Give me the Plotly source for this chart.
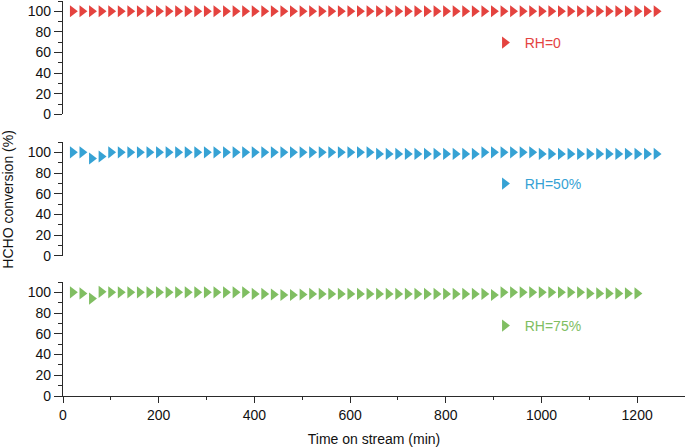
import plotly.graph_objects as go

# ---- data ----
time_0 = [20, 40, 60, 80, 100, 120, 140, 160, 180, 200, 220, 240, 260, 280, 300, 320,
          340, 360, 380, 400, 420, 440, 460, 480, 500, 520, 540, 560, 580, 600, 620, 640,
          660, 680, 700, 720, 740, 760, 780, 800, 820, 840, 860, 880, 900, 920, 940, 960,
          980, 1000, 1020, 1040, 1060, 1080, 1100, 1120, 1140, 1160, 1180, 1200, 1220, 1240]
conv_0 = [100, 100, 100, 100, 100, 100, 100, 100, 100, 100, 100, 100, 100, 100, 100, 100,
          100, 100, 100, 100, 100, 100, 100, 100, 100, 100, 100, 100, 100, 100, 100, 100,
          100, 100, 100, 100, 100, 100, 100, 100, 100, 100, 100, 100, 100, 100, 100, 100,
          100, 100, 100, 100, 100, 100, 100, 100, 100, 100, 100, 100, 100, 100]

time_50 = [20, 40, 60, 80, 100, 120, 140, 160, 180, 200, 220, 240, 260, 280, 300, 320,
           340, 360, 380, 400, 420, 440, 460, 480, 500, 520, 540, 560, 580, 600, 620, 640,
           660, 680, 700, 720, 740, 760, 780, 800, 820, 840, 860, 880, 900, 920, 940, 960,
           980, 1000, 1020, 1040, 1060, 1080, 1100, 1120, 1140, 1160, 1180, 1200, 1220, 1240]
conv_50 = [100, 100, 94, 96, 100, 100, 100, 100, 100, 100, 100, 100, 100, 100, 100, 100,
           100, 100, 100, 100, 100, 100, 100, 100, 100, 100, 100, 100, 100, 100, 100, 100,
           98.5, 98.5, 98.5, 98.5, 98.5, 98.5, 98.5, 98.5, 98.5, 98.5, 98.5, 100, 100, 100, 100, 100,
           100, 98.5, 98.5, 98.5, 98.5, 98.5, 98.5, 98.5, 98.5, 98.5, 98.5, 98.5, 98.5, 98.5]

time_75 = [20, 40, 60, 80, 100, 120, 140, 160, 180, 200, 220, 240, 260, 280, 300, 320,
           340, 360, 380, 400, 420, 440, 460, 480, 500, 520, 540, 560, 580, 600, 620, 640,
           660, 680, 700, 720, 740, 760, 780, 800, 820, 840, 860, 880, 900, 920, 940, 960,
           980, 1000, 1020, 1040, 1060, 1080, 1100, 1120, 1140, 1160, 1180, 1200]
conv_75 = [100, 99, 94, 100.5, 100, 100, 100, 100, 100, 100, 100, 100, 100, 100, 100, 100,
           100, 100, 100, 98.5, 98.5, 98, 97.5, 97.5, 98, 98.5, 98.5, 98.5, 98.5, 98.5, 98.5, 98.5,
           98.5, 98.5, 98.5, 98.5, 98.5, 98.5, 98.5, 98.5, 98.5, 98.5, 98.5, 98.5, 97.5, 100, 100, 100,
           100, 100, 100, 100, 100, 100, 99, 99, 99, 99, 99, 99]

labels = ["RH=0", "RH=50%", "RH=75%"]
colors = ["#E4433F", "#36A2D4", "#80BE62"]

FONT = "Liberation Sans, Arial, Helvetica, sans-serif"
AX = "#2a2a2a"

fig = go.Figure()
series = [(time_0, conv_0, "y", "legend"), (time_50, conv_50, "y2", "legend2"),
          (time_75, conv_75, "y3", "legend3")]
for (xs, ys, ya, lg), name, col in zip(series, labels, colors):
    fig.add_trace(go.Scatter(
        x=xs, y=ys, mode="markers", name=name, xaxis="x", yaxis=ya, legend=lg,
        marker=dict(symbol="triangle-right", size=10.5, color=col, line=dict(width=0)),
    ))

yax_common = dict(
    range=[0, 110], tickmode="array", tickvals=[0, 20, 40, 60, 80, 100],
    ticks="outside", ticklen=8, tickwidth=1.3, tickcolor=AX,
    showline=True, linecolor=AX, linewidth=1.3, showgrid=False, zeroline=False,
    anchor="x", automargin=False, tickfont=dict(family=FONT, size=14, color="#111"),
    minor=dict(dtick=10, tick0=0, ticks="outside", ticklen=4, tickwidth=1.2, tickcolor=AX),
)

H = 395.0
def dom(bottom_px, top_px):
    return [(396 - bottom_px) / H, (396 - top_px) / H]

leg_common = dict(bgcolor="rgba(0,0,0,0)", borderwidth=0, xanchor="left", yanchor="middle",
                  itemwidth=30, tracegroupgap=0)
LEGX = 0.678

fig.update_layout(
    width=685, height=447,
    margin=dict(l=63, r=0, t=1, b=51),
    paper_bgcolor="white", plot_bgcolor="white",
    font=dict(family=FONT, size=14, color="#111"),
    showlegend=True,
    xaxis=dict(
        range=[0, 1300], anchor="y3", tickmode="array",
        tickvals=[0, 200, 400, 600, 800, 1000, 1200],
        ticks="outside", ticklen=6, tickwidth=1.3, tickcolor=AX,
        showline=True, linecolor=AX, linewidth=1.3, showgrid=False, zeroline=False,
        automargin=False,
        tickfont=dict(family=FONT, size=14, color="#111"),
        minor=dict(dtick=100, tick0=0, ticks="outside", ticklen=3, tickwidth=1.2, tickcolor=AX),
        title=dict(text="Time on stream (min)", font=dict(family=FONT, size=14, color="#111")),
    ),
    yaxis=dict(domain=dom(114.3, 1.0), **yax_common),
    yaxis2=dict(domain=dom(255.7, 142.0), **yax_common),
    yaxis3=dict(domain=dom(396.0, 282.0), **yax_common),
    legend=dict(x=LEGX, y=(396 - 43) / H, font=dict(family=FONT, size=14, color=colors[0]), **leg_common),
    legend2=dict(x=LEGX, y=(396 - 184) / H, font=dict(family=FONT, size=14, color=colors[1]), **leg_common),
    legend3=dict(x=LEGX, y=(396 - 326) / H, font=dict(family=FONT, size=14, color=colors[2]), **leg_common),
    annotations=[dict(
        text="HCHO conversion (%)", textangle=-90, xref="paper", yref="paper",
        x=-0.089, y=(396 - 200) / H, xanchor="center", yanchor="middle", showarrow=False,
        font=dict(family=FONT, size=14, color="#111"),
    )],
)

fig.write_html("out.html", config={"displayModeBar": False},
               post_script="document.body.style.margin='0';")
